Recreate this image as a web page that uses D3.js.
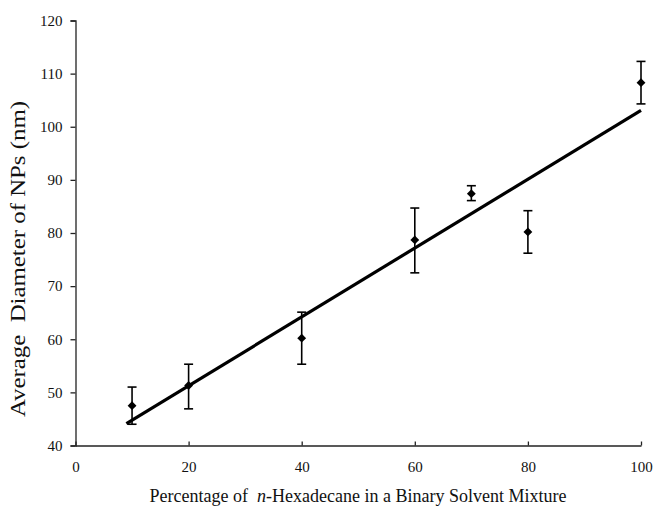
<!DOCTYPE html>
<html>
<head>
<meta charset="utf-8">
<script src="https://cdn.jsdelivr.net/npm/d3@7"></script>
<style>
  body { margin: 0; background: #fff; }
  svg { display: block; }
  svg text { font-family: "Liberation Serif", "Times New Roman", Times, serif !important; fill: #111; }
</style>
</head>
<body>
<svg id="chart" width="653" height="508"></svg>
<script>
// ---- data ----
const xValues  = [10, 20, 40, 60, 70, 80, 100];
const yValues  = [47.5, 51.3, 60.2, 78.7, 87.4, 80.2, 108.3];
const errUpper = [3.5, 4.0, 4.9, 6.0, 1.5, 4.0, 4.0];
const errLower = [3.5, 4.4, 4.9, 6.2, 1.3, 4.0, 4.0];
const trendX   = [9, 100];
const trendY   = [44.1, 103.1];
const xTicks   = [0, 20, 40, 60, 80, 100];
const yTicks   = [40, 50, 60, 70, 80, 90, 100, 110, 120];

const svg = d3.select("#chart");
const x = d3.scaleLinear().domain([0, 100]).range([75.5, 641]);
const y = d3.scaleLinear().domain([40, 120]).range([445.5, 20.5]);

// axes
const xAxis = svg.append("g").attr("transform", `translate(0,${y(40)})`)
  .call(d3.axisBottom(x).tickValues(xTicks).tickSizeInner(-4).tickSizeOuter(0).tickPadding(16));
const yAxis = svg.append("g").attr("transform", `translate(${x(0)},0)`)
  .call(d3.axisLeft(y).tickValues(yTicks).tickSizeInner(5).tickSizeOuter(5).tickPadding(8));
[xAxis, yAxis].forEach(a => {
  a.attr("font-family", "Liberation Serif").attr("font-size", 15);
  a.selectAll("path, line").attr("stroke", "#222").attr("stroke-width", 1.3);
  a.selectAll("text").attr("fill", "#111");
});

// trend line
svg.append("line")
  .attr("x1", x(trendX[0])).attr("y1", y(trendY[0]))
  .attr("x2", x(trendX[1])).attr("y2", y(trendY[1]))
  .attr("stroke", "#000").attr("stroke-width", 3.2);

const pts = xValues.map((v, i) => ({x: v, y: yValues[i], hi: yValues[i] + errUpper[i], lo: yValues[i] - errLower[i]}));

// error bars
const eb = svg.append("g").attr("stroke", "#000").attr("stroke-width", 1.6);
pts.forEach(d => {
  eb.append("line").attr("x1", x(d.x)).attr("x2", x(d.x)).attr("y1", y(d.hi)).attr("y2", y(d.lo));
  eb.append("line").attr("x1", x(d.x) - 4.5).attr("x2", x(d.x) + 4.5).attr("y1", y(d.hi)).attr("y2", y(d.hi));
  eb.append("line").attr("x1", x(d.x) - 4.5).attr("x2", x(d.x) + 4.5).attr("y1", y(d.lo)).attr("y2", y(d.lo));
});

// diamonds
svg.append("g").selectAll("path").data(pts).join("path")
  .attr("transform", d => `translate(${x(d.x)},${y(d.y)})`)
  .attr("d", d3.symbol().type(d3.symbolDiamond2).size(50))
  .attr("fill", "#000");

// axis titles
svg.append("text")
  .attr("x", 358).attr("y", 502)
  .attr("text-anchor", "middle")
  .attr("font-size", 18)
  .html('Percentage of&#160; <tspan font-style="italic">n</tspan>-Hexadecane in a Binary Solvent Mixture');

svg.append("text")
  .attr("transform", "translate(25,259) rotate(-90)")
  .attr("text-anchor", "middle")
  .attr("font-size", 20.5)
  .attr("textLength", 316)
  .attr("lengthAdjust", "spacingAndGlyphs")
  .text("Average\u00a0 Diameter of NPs (nm)");
</script>
</body>
</html>
